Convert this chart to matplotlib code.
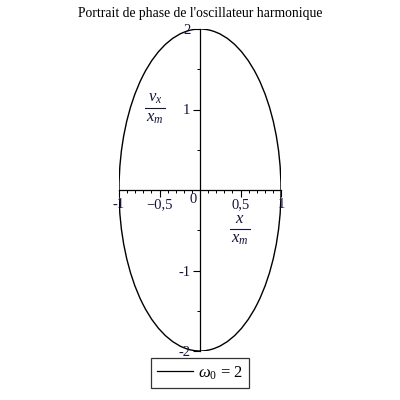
import matplotlib.pyplot as plt
from matplotlib.patches import Ellipse
from matplotlib.lines import Line2D
from matplotlib.ticker import MultipleLocator, FixedLocator

plt.rcParams['font.family'] = ['Liberation Serif', 'DejaVu Serif']
plt.rcParams['mathtext.fontset'] = 'custom'
plt.rcParams['mathtext.rm'] = 'Liberation Serif'
plt.rcParams['mathtext.it'] = 'Liberation Serif:italic'

# data: x/x_m amplitude, v_x/x_m amplitude (omega0 * x_m)
omega0 = 2
x_amp = 1.0
v_amp = 2.0
x_ticks = [-1, -0.5, 0.5, 1]
x_labels = ['-1', '\u22120,5', '0,5', '1']
y_ticks = [-2, -1, 1, 2]
y_labels = ['-2', '-1', '1', '2']
title = "Portrait de phase de l'oscillateur harmonique"
ink = '#14143c'

fig = plt.figure(figsize=(4, 4), dpi=100)
ax = fig.add_axes([0.2975, 0.1225, 0.405, 0.805])
ax.set_xlim(-1, 1)
ax.set_ylim(-2, 2)

ell = Ellipse((0, 0), 2 * x_amp, 2 * v_amp, fill=False, color='black', lw=1.0)
ax.add_patch(ell)

for s in ['top', 'right']:
    ax.spines[s].set_visible(False)
ax.spines['left'].set_position(('data', 0))
ax.spines['bottom'].set_position(('data', 0))
ax.spines['left'].set_linewidth(0.9)
ax.spines['bottom'].set_linewidth(0.9)

ax.xaxis.set_major_locator(FixedLocator(x_ticks))
ax.xaxis.set_minor_locator(MultipleLocator(0.1))
ax.set_xticklabels(x_labels)
ax.yaxis.set_major_locator(FixedLocator(y_ticks))
ax.yaxis.set_minor_locator(MultipleLocator(0.5))
ax.set_yticklabels(y_labels)
ax.tick_params(axis='x', which='major', direction='out', length=5, width=0.8,
               labelsize=10.5, pad=1, labelcolor=ink)
ax.tick_params(axis='x', which='minor', direction='out', length=2.5, width=0.7)
ax.tick_params(axis='y', which='major', direction='out', length=5, width=0.8,
               labelsize=10.5, pad=2, labelcolor=ink)
ax.tick_params(axis='y', which='minor', direction='out', length=2.5, width=0.7)

ax.text(-0.09, -0.04, '0', ha='center', va='top', fontsize=10.5, color=ink)


def fraction(cx, cy, num, den):
    # cx, cy: centre of fraction bar in pixels from top-left
    fx, fy = cx / 400, 1 - cy / 400
    fig.text(fx, fy + 0.006, num, ha='center', va='bottom', fontsize=12, color=ink)
    fig.text(fx, fy - 0.006, den, ha='center', va='top', fontsize=12, color=ink)
    fig.add_artist(Line2D([fx - 0.025, fx + 0.025], [fy, fy], color=ink, lw=0.8))


fraction(240, 229, r'$x$', r'$x_m$')
fraction(155, 108, r'$v_x$', r'$x_m$')

fig.text(0.5, 0.965, title, ha='center', va='center', fontsize=9.8)

handle = Line2D([], [], color='black', lw=0.9)
leg = fig.legend([handle], [r'$\omega_0$ = 2'], loc='center', bbox_to_anchor=(0.5, 0.0675),
                 fontsize=12, frameon=True, fancybox=False, edgecolor='black',
                 handlelength=2.2, borderpad=0.35, handletextpad=0.3, borderaxespad=0)
leg.get_frame().set_linewidth(0.9)

fig.savefig('out.png', dpi=100, facecolor='white')
